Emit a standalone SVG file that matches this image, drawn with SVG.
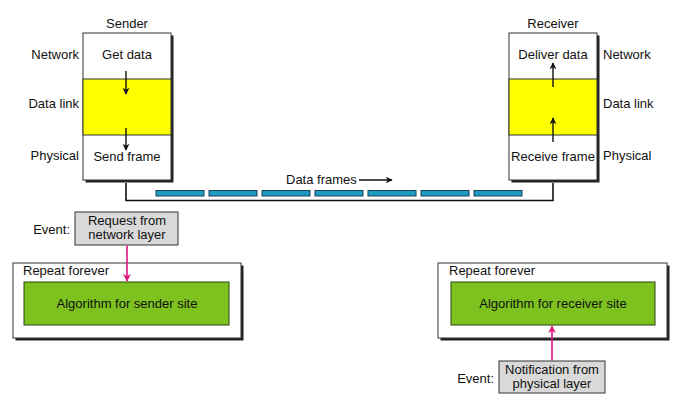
<svg xmlns="http://www.w3.org/2000/svg" width="700" height="406" viewBox="0 0 700 406">
<defs>
<style>
text{font-family:"Liberation Sans",Arial,sans-serif;font-size:13px;fill:#111}
.c{text-anchor:middle}
.r{text-anchor:end}
.box{fill:#fff;stroke:#333;stroke-width:1}
.shadow{fill:#222}
.yel{fill:#ffff00;stroke:#333;stroke-width:1}
.grn{fill:#7dc21e;stroke:#2b4410;stroke-width:1}
.gry{fill:#d9d9d9;stroke:#333;stroke-width:1}
.frm{fill:#1a9cc4;stroke:#1f3f4f;stroke-width:1}
.ln{fill:none;stroke:#111;stroke-width:1.6}
.blk{fill:none;stroke:#111;stroke-width:1.4}
.mag{fill:none;stroke:#e0157f;stroke-width:1.6}
</style>
<marker id="ab" viewBox="0 0 10 10" refX="9" refY="5" markerWidth="7" markerHeight="7" markerUnits="userSpaceOnUse" orient="auto"><path d="M0,0 L10,5 L0,10 L3,5 Z" fill="#111"/></marker>
<marker id="am" viewBox="0 0 10 10" refX="9" refY="5" markerWidth="8" markerHeight="8" markerUnits="userSpaceOnUse" orient="auto"><path d="M0,0 L10,5 L0,10 L3,5 Z" fill="#e0157f"/></marker>
</defs>
<g id="sender">
<rect class="shadow" x="85.5" y="35.5" width="88" height="147"/>
<rect class="box" x="83" y="33" width="88" height="147"/>
<rect class="yel" x="83" y="79" width="88" height="56"/>
<text class="c" x="127" y="28">Sender</text>
<text class="c" x="127" y="59">Get data</text>
<text class="c" x="127" y="161">Send frame</text>
<text class="r" x="79" y="59">Network</text>
<text class="r" x="79" y="108">Data link</text>
<text class="r" x="79" y="160">Physical</text>
</g>
<g id="receiver">
<rect class="shadow" x="511.5" y="35.5" width="88" height="147"/>
<rect class="box" x="509" y="33" width="88" height="147"/>
<rect class="yel" x="509" y="79" width="88" height="56"/>
<text class="c" x="553" y="28">Receiver</text>
<text class="c" x="553" y="59">Deliver data</text>
<text class="c" x="553" y="161">Receive frame</text>
<text x="603" y="59">Network</text>
<text x="603" y="108">Data link</text>
<text x="603" y="160">Physical</text>
</g>
<g id="frames">
<rect class="frm" x="156" y="190.5" width="48" height="5.5"/>
<rect class="frm" x="209" y="190.5" width="48" height="5.5"/>
<rect class="frm" x="262" y="190.5" width="48" height="5.5"/>
<rect class="frm" x="315" y="190.5" width="48" height="5.5"/>
<rect class="frm" x="368" y="190.5" width="48" height="5.5"/>
<rect class="frm" x="421" y="190.5" width="48" height="5.5"/>
<rect class="frm" x="474" y="190.5" width="48" height="5.5"/>
<text x="286" y="184">Data frames</text>
</g>
<g id="event-send">
<rect class="gry" x="75" y="212" width="103" height="33"/>
<text class="c" x="127" y="225">Request from</text>
<text class="c" x="127" y="239">network layer</text>
<text class="r" x="70" y="234">Event:</text>
</g>
<g id="sender-loop">
<rect class="shadow" x="15.5" y="265.5" width="228" height="75"/>
<rect class="box" x="13" y="263" width="228" height="75"/>
<text x="23" y="275">Repeat forever</text>
<rect class="grn" x="24" y="282" width="205" height="43"/>
<text class="c" x="127" y="308">Algorithm for sender site</text>
</g>
<g id="receiver-loop">
<rect class="shadow" x="440.5" y="265.5" width="229" height="75"/>
<rect class="box" x="438" y="263" width="229" height="75"/>
<text x="449" y="275">Repeat forever</text>
<rect class="grn" x="451" y="282" width="204" height="43"/>
<text class="c" x="553" y="308">Algorithm for receiver site</text>
</g>
<g id="event-recv">
<rect class="gry" x="499" y="361" width="106" height="32"/>
<text class="c" x="552" y="374">Notification from</text>
<text class="c" x="552" y="388">physical layer</text>
<text class="r" x="494" y="383">Event:</text>
</g>
<g id="connectors">
<path class="ln" d="M126,183 V200.5 H553 V183"/>
<line class="blk" x1="126" y1="71" x2="126" y2="94" marker-end="url(#ab)"/>
<line class="blk" x1="126" y1="128" x2="126" y2="150" marker-end="url(#ab)"/>
<line class="blk" x1="553" y1="87" x2="553" y2="63" marker-end="url(#ab)"/>
<line class="blk" x1="553" y1="142" x2="553" y2="118" marker-end="url(#ab)"/>
<line class="blk" x1="359" y1="180" x2="392" y2="180" marker-end="url(#ab)"/>
<line class="mag" x1="127" y1="245.5" x2="127" y2="281" marker-end="url(#am)"/>
<line class="mag" x1="552" y1="360.5" x2="552" y2="326" marker-end="url(#am)"/>
</g>
</svg>
